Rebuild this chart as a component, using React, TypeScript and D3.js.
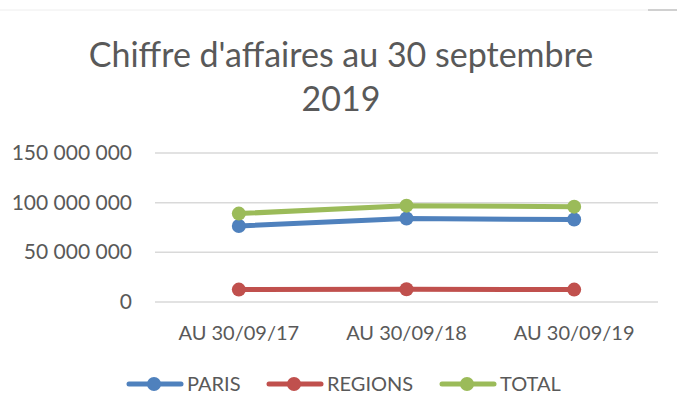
import React, { useEffect, useRef } from 'react'
import * as d3 from 'd3'

const categories = ['AU 30/09/17', 'AU 30/09/18', 'AU 30/09/19']
const paris = [76500000, 84000000, 83000000]
const regions = [12500000, 12800000, 12500000]
const total = [89000000, 97000000, 96000000]
const yTicks = [0, 50000000, 100000000, 150000000]
const seriesNames = ['PARIS', 'REGIONS', 'TOTAL']
const colors = ['#4F81BD', '#C0504D', '#9BBB59']

export default function App() {
  const svgRef = useRef<SVGSVGElement>(null)

  useEffect(() => {
    const width = 677
    const height = 416
    const svg = d3.select(svgRef.current)
    svg.selectAll('*').remove()
    svg.attr('width', width).attr('height', height)

    const font = 'Lato, "Open Sans", sans-serif'
    const txt = '#595959'

    svg.append('rect').attr('width', width).attr('height', height).attr('fill', '#fff')

    // top border remnants
    svg.append('line').attr('x1', 0).attr('x2', 648).attr('y1', 10).attr('y2', 10)
      .attr('stroke', '#eeeeee').attr('stroke-width', 1)
    svg.append('line').attr('x1', 648).attr('x2', 677).attr('y1', 10).attr('y2', 10)
      .attr('stroke', '#d0d0d0').attr('stroke-width', 2)

    // title
    const title = svg.append('text').attr('text-anchor', 'middle')
      .attr('font-family', font).attr('font-size', 34).attr('fill', txt)
    title.append('tspan').attr('x', 341).attr('y', 67).text("Chiffre d'affaires au 30 septembre")
    title.append('tspan').attr('x', 341).attr('y', 111).text('2019')

    const x = d3.scaleBand().domain(categories).range([155, 658])
    const y = d3.scaleLinear().domain([0, 150000000]).range([302, 153])

    const fmt = (v: number) => d3.format(',')(v).replace(/,/g, ' ')

    // gridlines
    svg.append('g').selectAll('line').data(yTicks).enter().append('line')
      .attr('x1', 155).attr('x2', 658)
      .attr('y1', d => y(d)).attr('y2', d => y(d))
      .attr('stroke', '#d9d9d9').attr('stroke-width', 1.5)

    svg.append('g').selectAll('text').data(yTicks).enter().append('text')
      .attr('x', 132).attr('y', d => y(d) + 7)
      .attr('text-anchor', 'end')
      .attr('font-family', font).attr('font-size', 21).attr('fill', txt)
      .text(d => fmt(d))

    svg.append('g').selectAll('text').data(categories).enter().append('text')
      .attr('x', d => (x(d) as number) + x.bandwidth() / 2).attr('y', 340)
      .attr('text-anchor', 'middle')
      .attr('font-family', font).attr('font-size', 20).attr('fill', txt)
      .text(d => d)

    const allSeries = [paris, regions, total]
    const line = d3.line<number>()
      .x((_, i) => (x(categories[i]) as number) + x.bandwidth() / 2)
      .y(d => y(d))

    allSeries.forEach((s, k) => {
      const g = svg.append('g')
      g.append('path').datum(s).attr('d', line).attr('fill', 'none')
        .attr('stroke', colors[k]).attr('stroke-width', 5).attr('stroke-linecap', 'round')
      g.selectAll('circle').data(s).enter().append('circle')
        .attr('cx', (_, i) => (x(categories[i]) as number) + x.bandwidth() / 2)
        .attr('cy', d => y(d)).attr('r', 7).attr('fill', colors[k])
    })

    // legend
    const legendX = [127, 267, 440]
    seriesNames.forEach((n, k) => {
      const g = svg.append('g').attr('transform', `translate(${legendX[k]},384)`)
      g.append('line').attr('x1', 2).attr('x2', 54).attr('y1', 0).attr('y2', 0)
        .attr('stroke', colors[k]).attr('stroke-width', 5).attr('stroke-linecap', 'round')
      g.append('circle').attr('cx', 27).attr('cy', 0).attr('r', 7).attr('fill', colors[k])
      g.append('text').attr('x', 60).attr('y', 7)
        .attr('font-family', font).attr('font-size', 20).attr('fill', txt).text(n)
    })
  }, [])

  return (
    <div style={{ position: 'absolute', left: 0, top: 0 }}>
      <svg ref={svgRef} width={677} height={416}></svg>
    </div>
  )
}
